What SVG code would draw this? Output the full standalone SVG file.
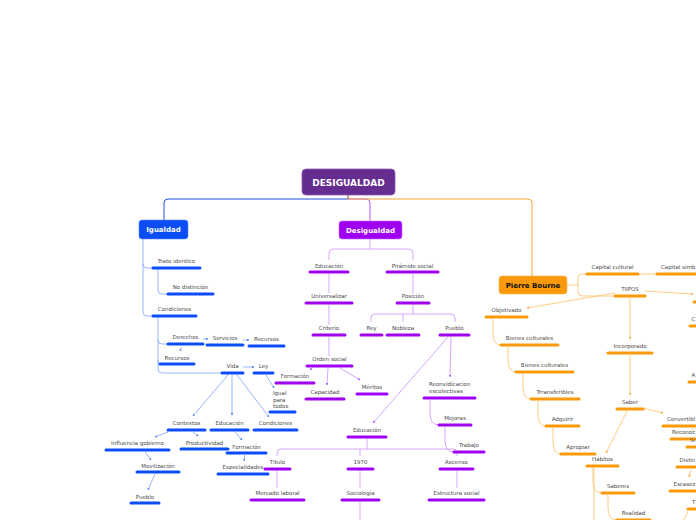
<svg xmlns="http://www.w3.org/2000/svg" width="696" height="520" viewBox="0 0 696 520">
<style>
.t{font-family:"DejaVu Sans",Verdana,sans-serif;font-size:5.5px;fill:#4a4a4a;text-anchor:middle}
.ts{font-family:"DejaVu Sans",Verdana,sans-serif;font-size:5.5px;fill:#4a4a4a;text-anchor:start}
.bt{font-family:"DejaVu Sans",Verdana,sans-serif;font-weight:bold;font-size:7px;fill:#fff;text-anchor:middle}
.bb{stroke:#0a4cf5;stroke-width:3;stroke-linecap:round}
.pb{stroke:#a000f2;stroke-width:3;stroke-linecap:round}
.ob{stroke:#fa9a0a;stroke-width:3;stroke-linecap:round}
.cb{stroke:#7fa2ff;stroke-width:0.8;fill:none}
.cp{stroke:#d49bff;stroke-width:0.9;fill:none}
.co{stroke:#ffc676;stroke-width:0.9;fill:none}
.ab{marker-end:url(#mb)}
.ap{marker-end:url(#mp)}
.ao{marker-end:url(#mo)}
</style>
<defs>
<marker id="mb" viewBox="0 0 6 6" refX="5" refY="3" markerWidth="3" markerHeight="3" orient="auto"><path d="M0,0L6,3L0,6z" fill="#4f7fff"/></marker>
<marker id="mp" viewBox="0 0 6 6" refX="5" refY="3" markerWidth="3" markerHeight="3" orient="auto"><path d="M0,0L6,3L0,6z" fill="#b45cf5"/></marker>
<marker id="mo" viewBox="0 0 6 6" refX="5" refY="3" markerWidth="3" markerHeight="3" orient="auto"><path d="M0,0L6,3L0,6z" fill="#f9a93a"/></marker>
</defs>
<rect width="696" height="520" fill="#fff"/>
<g id="connectors">
<path d="M348,194V199H168Q164,199 164,203V220" stroke="#1f4fe0" stroke-width="1" fill="none"/>
<path d="M348,199H366Q370,199 370,203V221" stroke="#b656f5" stroke-width="1" fill="none"/>
<path d="M348,194V199H528Q532,199 532,203V276" stroke="#f7a535" stroke-width="1" fill="none"/>
<path class="cb" d="M143,239V264Q143,268 147,268H153"/>
<path class="cb" d="M143,264V312Q143,316 147,316H153"/>
<path class="cb" d="M158,269V290Q158,294 162,294H168"/>
<path class="cb" d="M158,317V340Q158,344 162,344H168"/>
<path class="cb" d="M158,340V360Q158,364 160,364"/>
<path class="cb" d="M158,360V369Q158,373 162,373H222"/>
<path class="cb ab" d="M203,339H208"/>
<path class="cb ab" d="M243,340H249"/>
<path class="cb ab" d="M182,347L180,351"/>
<path class="cb ab" d="M243,367H254"/>
<path class="cb ab" d="M266,375L274,388"/>
<path class="cb ab" d="M228,375L193,416"/>
<path class="cb ab" d="M232,375V415"/>
<path class="cb ab" d="M237,375L269,417"/>
<path class="cb ab" d="M168,432L155,437"/>
<path class="cb ab" d="M193,432L198,436"/>
<path class="cb ab" d="M235,432L242,440"/>
<path class="cb ab" d="M245,455L244,461"/>
<path class="cb ab" d="M145,452L151,460"/>
<path class="cb ab" d="M155,474L148,490"/>
<path class="cp" d="M370,239V249"/>
<path class="cp" d="M329,260V253Q329,249 333,249H409Q413,249 413,253V260"/>
<path class="cp" d="M329,274V293M329,305V325M329,337V356"/>
<path class="cp" d="M413,274V293"/>
<path class="cp" d="M413,305V314"/>
<path class="cp" d="M371,322V318Q371,314 375,314H451Q455,314 455,318V322M403,314V322"/>
<path class="cp ap" d="M312,368L310,370"/>
<path class="cp ap" d="M328,368L327,385"/>
<path class="cp ap" d="M340,368L360,380"/>
<path class="cp ap" d="M451,337L450,377"/>
<path class="cp ap" d="M448,337L373,423"/>
<path class="cp" d="M430,400V413Q430,425 439,425"/>
<path class="cp" d="M445,427V440Q445,452 454,452"/>
<path class="cp" d="M367,439V449"/>
<path class="cp" d="M277,456V453Q277,449 281,449H453Q457,449 457,453V456M360,449V456"/>
<path class="cp" d="M277,471V488M360,471V488M457,471V488M360,502V520"/>
<path class="co" d="M567,285H578"/>
<path class="co" d="M587,274H582Q578,274 578,278V292Q578,296 582,296H615"/>
<path class="co" d="M638,274H657"/>
<path class="co ao" d="M645,291L693,294"/>
<path class="co ao" d="M615,293L527,308"/>
<path class="co ao" d="M630,298V339"/>
<path class="co ao" d="M630,355V395"/>
<path class="co ao" d="M627,411L606,453"/>
<path class="co ao" d="M643,408L663,413"/>
<path class="co" d="M493,319V333Q493,345 501,345"/>
<path class="co" d="M508,347V360Q508,372 516,372"/>
<path class="co" d="M523,374V387Q523,399 531,399"/>
<path class="co" d="M538,401V414Q538,426 546,426"/>
<path class="co" d="M553,428V442Q553,454 561,454"/>
<path class="co" d="M593,468V481Q593,493 602,493"/>
<path class="co" d="M594,468V520"/>
<path class="co" d="M608,495V508Q608,520 617,520"/>
<path class="co ao" d="M691,470L689,477"/>
<path class="co" d="M688,511L684,520"/>
<path class="co" d="M692,428L694,432"/>
</g>
<g id="root"><rect x="302" y="169" width="93" height="26" rx="4" fill="#662d91" stroke="#8a5cb0" stroke-width="0.8"/><text x="348.5" y="185.5" class="bt" style="font-size:9px">DESIGUALDAD</text></g>
<g id="igualdad"><rect x="139" y="220" width="49" height="19" rx="3" fill="#0a4cf5" stroke="#5b86ff" stroke-width="0.6"/><text x="163.5" y="232" class="bt">Igualdad</text></g>
<g id="desigualdad"><rect x="339" y="221" width="63" height="18" rx="3" fill="#a000f2" stroke="#c566ff" stroke-width="0.6"/><text x="370.5" y="232.5" class="bt">Desigualdad</text></g>
<g id="pierre"><rect x="499" y="276" width="68" height="18" rx="3" fill="#fa9a0a" stroke="#ffbb55" stroke-width="0.6"/><text x="533" y="287.5" class="bt" style="fill:#111">Pierre Bourne</text></g>
<g id="trato"><line class="bb" x1="153" y1="268" x2="200" y2="268"/><text class="t" x="176.5" y="263">Trato identico</text></g>
<g id="nodistincion"><line class="bb" x1="168" y1="294" x2="213" y2="294"/><text class="t" x="190.5" y="289">No distinción</text></g>
<g id="condiciones1"><line class="bb" x1="153" y1="316" x2="196" y2="316"/><text class="t" x="174.5" y="311">Condiciones</text></g>
<g id="derechos"><line class="bb" x1="168" y1="344" x2="203" y2="344"/><text class="t" x="185.5" y="339">Derechos</text></g>
<g id="servicios"><line class="bb" x1="207" y1="345" x2="243" y2="345"/><text class="t" x="225" y="340">Servicios</text></g>
<g id="recursos1"><line class="bb" x1="249" y1="346" x2="284" y2="346"/><text class="t" x="266.5" y="341">Recursos</text></g>
<g id="recursos2"><line class="bb" x1="160" y1="364" x2="194" y2="364"/><text class="t" x="177" y="359.5">Recursos</text></g>
<g id="vida"><line class="bb" x1="222" y1="373" x2="243" y2="373"/><text class="t" x="232.5" y="368">Vida</text></g>
<g id="ley"><line class="bb" x1="254" y1="373" x2="273" y2="373"/><text class="t" x="263.5" y="368">Ley</text></g>
<g id="igualparatodos"><line class="bb" x1="270" y1="412" x2="295" y2="412"/><text class="ts" x="273" y="395">Igual</text><text class="ts" x="273" y="401.5">para</text><text class="ts" x="273" y="408">todos</text></g>
<g id="contextos"><line class="bb" x1="168" y1="430" x2="205" y2="430"/><text class="t" x="186.5" y="425">Contextos</text></g>
<g id="educacion1"><line class="bb" x1="211" y1="430" x2="248" y2="430"/><text class="t" x="229.5" y="425">Educación</text></g>
<g id="condiciones2"><line class="bb" x1="254" y1="430" x2="297" y2="430"/><text class="t" x="275.5" y="425">Condiciones</text></g>
<g id="influencia"><line class="bb" x1="106" y1="450" x2="169" y2="450"/><text class="t" x="137.5" y="445">Influencia gobierno</text></g>
<g id="productividad"><line class="bb" x1="181" y1="449" x2="228" y2="449"/><text class="t" x="204.5" y="444.5">Productividad</text></g>
<g id="formacion1"><line class="bb" x1="227" y1="453" x2="266" y2="453"/><text class="t" x="246.5" y="448.5">Formación</text></g>
<g id="especialidades"><line class="bb" x1="218" y1="474" x2="268" y2="474"/><text class="t" x="243" y="469">Especialidades</text></g>
<g id="movilizacion"><line class="bb" x1="137" y1="472" x2="179" y2="472"/><text class="t" x="158" y="467.5">Movilización</text></g>
<g id="pueblo1"><line class="bb" x1="131" y1="503" x2="159" y2="503"/><text class="t" x="145" y="498.5">Pueblo</text></g>
<g id="educacion2"><line class="pb" x1="310" y1="272" x2="348" y2="272"/><text class="t" x="329" y="267.5">Educación</text></g>
<g id="piramide"><line class="pb" x1="387" y1="272" x2="438" y2="272"/><text class="t" x="412.5" y="267.5">Pirámide social</text></g>
<g id="universalizar"><line class="pb" x1="306" y1="303" x2="352" y2="303"/><text class="t" x="329" y="298">Universalizar</text></g>
<g id="posicion"><line class="pb" x1="397" y1="303" x2="429" y2="303"/><text class="t" x="413" y="298">Posición</text></g>
<g id="criterio"><line class="pb" x1="313" y1="335" x2="345" y2="335"/><text class="t" x="329" y="330">Criterio</text></g>
<g id="rey"><line class="pb" x1="361" y1="335" x2="382" y2="335"/><text class="t" x="371.5" y="330">Rey</text></g>
<g id="nobleza"><line class="pb" x1="387" y1="335" x2="419" y2="335"/><text class="t" x="403" y="330">Nobleza</text></g>
<g id="pueblo2"><line class="pb" x1="440" y1="335" x2="469" y2="335"/><text class="t" x="454.5" y="330">Pueblo</text></g>
<g id="ordensocial"><line class="pb" x1="307" y1="366" x2="352" y2="366"/><text class="t" x="329.5" y="361">Orden social</text></g>
<g id="formacion2"><line class="pb" x1="276" y1="383" x2="314" y2="383"/><text class="t" x="295" y="378">Formación</text></g>
<g id="capacidad"><line class="pb" x1="306" y1="399" x2="344" y2="399"/><text class="t" x="325" y="394">Capacidad</text></g>
<g id="meritos"><line class="pb" x1="357" y1="394" x2="387" y2="394"/><text class="t" x="372" y="389">Méritos</text></g>
<g id="reonvidicacion"><line class="pb" x1="424" y1="398" x2="475" y2="398"/><text class="ts" x="429" y="386">Reonvidicacion</text><text class="ts" x="429" y="393">escolectivas</text></g>
<g id="mejoras"><line class="pb" x1="439" y1="425" x2="471" y2="425"/><text class="t" x="455" y="420">Mejoras</text></g>
<g id="trabajo"><line class="pb" x1="454" y1="452" x2="484" y2="452"/><text class="t" x="469" y="447">Trabajo</text></g>
<g id="educacion3"><line class="pb" x1="348" y1="437" x2="386" y2="437"/><text class="t" x="367" y="432">Educación</text></g>
<g id="titulo"><line class="pb" x1="265" y1="469" x2="290" y2="469"/><text class="t" x="277.5" y="464">Título</text></g>
<g id="n1970"><line class="pb" x1="348" y1="469" x2="373" y2="469"/><text class="t" x="360.5" y="464">1970</text></g>
<g id="ascenso"><line class="pb" x1="440" y1="469" x2="473" y2="469"/><text class="t" x="456.5" y="464">Ascenso</text></g>
<g id="mercado"><line class="pb" x1="251" y1="500" x2="304" y2="500"/><text class="t" x="277.5" y="495">Mercado laboral</text></g>
<g id="sociologia"><line class="pb" x1="342" y1="500" x2="379" y2="500"/><text class="t" x="360.5" y="495">Sociología</text></g>
<g id="estructura"><line class="pb" x1="429" y1="500" x2="484" y2="500"/><text class="t" x="456.5" y="495">Estructura social</text></g>
<g id="capcultural"><line class="ob" x1="587" y1="274" x2="638" y2="274"/><text class="t" x="612.5" y="269">Capital cultural</text></g>
<g id="capsimbolico"><line class="ob" x1="657" y1="274" x2="700" y2="274"/><text class="ts" x="661" y="269">Capital simb</text></g>
<g id="tiipos"><line class="ob" x1="615" y1="296" x2="645" y2="296"/><text class="t" x="630" y="291">TIIPOS</text></g>
<g id="tipo3"><line class="ob" x1="694" y1="302" x2="700" y2="302"/></g>
<g id="c326"><line class="ob" x1="690" y1="326" x2="700" y2="326"/><text class="ts" x="691.5" y="320.5">C</text></g>
<g id="a383"><line class="ob" x1="689" y1="382" x2="700" y2="382"/><text class="ts" x="691.5" y="377">A</text></g>
<g id="objetivado"><line class="ob" x1="486" y1="317" x2="527" y2="317"/><text class="t" x="506.5" y="312">Objetivado</text></g>
<g id="bienes1"><line class="ob" x1="501" y1="345" x2="558" y2="345"/><text class="t" x="529.5" y="340">Bienes culturales</text></g>
<g id="bienes2"><line class="ob" x1="516" y1="372" x2="573" y2="372"/><text class="t" x="544.5" y="367">Bienes culturales</text></g>
<g id="transferibles"><line class="ob" x1="531" y1="399" x2="579" y2="399"/><text class="t" x="555" y="394">Trransferibles</text></g>
<g id="adquirir"><line class="ob" x1="546" y1="426" x2="579" y2="426"/><text class="t" x="562.5" y="421">Adquirir</text></g>
<g id="apropiar"><line class="ob" x1="561" y1="454" x2="595" y2="454"/><text class="t" x="578" y="449">Apropiar</text></g>
<g id="habitos"><line class="ob" x1="587" y1="466" x2="618" y2="466"/><text class="t" x="602.5" y="461">Hábitos</text></g>
<g id="saberes"><line class="ob" x1="602" y1="493" x2="634" y2="493"/><text class="t" x="618" y="488">Saberes</text></g>
<g id="realidad"><line class="ob" x1="617" y1="520" x2="650" y2="520"/><text class="t" x="633.5" y="515">Realidad</text></g>
<g id="incorporado"><line class="ob" x1="608" y1="353" x2="652" y2="353"/><text class="t" x="630" y="348">Incorporado</text></g>
<g id="saber"><line class="ob" x1="617" y1="409" x2="643" y2="409"/><text class="t" x="630" y="404">Saber</text></g>
<g id="convertible"><line class="ob" x1="663" y1="426" x2="700" y2="426"/><text class="ts" x="667" y="421">Convertibl</text></g>
<g id="reconoc"><line class="ob" x1="671" y1="439" x2="700" y2="439"/><text class="ts" x="672" y="434">Reconoc</text></g>
<g id="si"><line class="ob" x1="687" y1="447" x2="700" y2="447"/><text class="ts" x="690" y="442">Si</text></g>
<g id="distin"><line class="ob" x1="677" y1="467" x2="700" y2="467"/><text class="ts" x="679.5" y="462">Distin</text></g>
<g id="escasez"><line class="ob" x1="670" y1="491" x2="700" y2="491"/><text class="ts" x="673.5" y="486">Escasez</text></g>
<g id="t509"><line class="ob" x1="688" y1="509" x2="700" y2="509"/><text class="ts" x="692" y="504">T</text></g>
</svg>
